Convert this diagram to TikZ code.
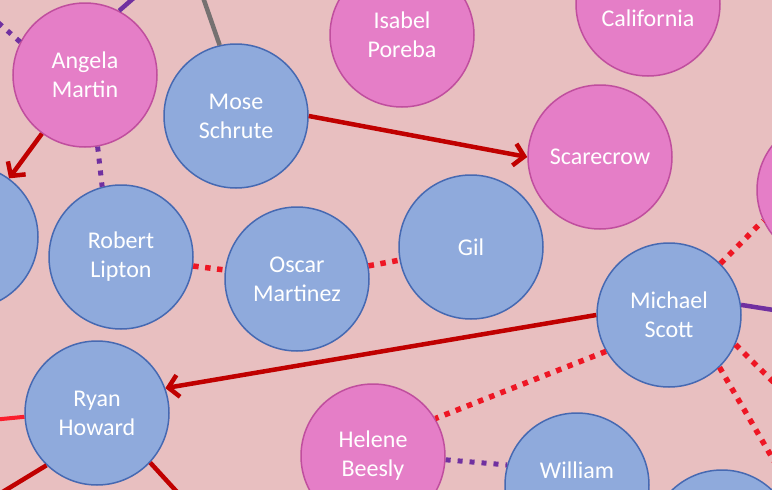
\documentclass[tikz,border=0pt]{standalone}
\usepackage{fontspec}
\setmainfont{Carlito}
\usetikzlibrary{arrows.meta}
\definecolor{bgpink}{RGB}{232,191,192}
\definecolor{nblue}{RGB}{143,170,220}
\definecolor{nblueb}{RGB}{70,105,178}
\definecolor{npink}{RGB}{229,126,199}
\definecolor{npinkb}{RGB}{192,78,158}
\definecolor{darkred}{RGB}{192,0,0}
\definecolor{brightred}{RGB}{238,22,36}
\definecolor{lred}{RGB}{250,30,45}
\definecolor{purp}{RGB}{112,48,160}
\definecolor{grayl}{RGB}{118,113,113}
\begin{document}
\begin{tikzpicture}[x=1pt,y=-1pt,
  txt/.style={text=white, align=center, font=\fontsize{24}{29}\selectfont},
  person/.style={circle, minimum size=144pt, inner sep=0pt, line width=1.5pt, txt},
  bluenode/.style={person, fill=nblue, draw=nblueb},
  pinknode/.style={person, fill=npink, draw=npinkb},
  redarrow/.style={draw=darkred, line width=4.5pt, -{Straight Barb[length=10pt,width=22pt]}},
  redline/.style={draw=darkred, line width=4.5pt},
  reddot/.style={draw=brightred, line width=5.5pt, dash pattern=on 5.5pt off 6.5pt},
  purpdot/.style={draw=purp, line width=5pt, dash pattern=on 5pt off 7pt},
  purpline/.style={draw=purp, line width=4.5pt},
  grayline/.style={draw=grayl, line width=4.5pt}
]
\useasboundingbox (0,0) rectangle (772,490);
\fill[bgpink] (0,0) rectangle (772,490);
\clip (0,0) rectangle (772,490);

% nodes
\node[pinknode] (ang) at (85,75) {Angela\\Martin};
\node[bluenode] (mose) at (236,116) {Mose\\Schrute};
\node[pinknode] (isa) at (402,35) {Isabel\\Poreba};
\node[pinknode, label={[txt,yshift=-14.5pt]center:California}] (cal) at (648,4) {};
\node[pinknode] (scare) at (600,157) {Scarecrow};
\node[pinknode] (rpink) at (829,190) {};
\node[bluenode] (left) at (-34,237) {};
\node[bluenode] (rob) at (121,257) {Robert\\Lipton};
\node[bluenode] (osc) at (297,279) {Oscar\\Martinez};
\node[bluenode] (gil) at (471,247) {Gil};
\node[bluenode] (mich) at (669,315) {Michael\\Scott};
\node[bluenode] (ryan) at (97,413) {Ryan\\Howard};
\node[pinknode] (hel) at (373,456) {Helene\\Beesly};
\node[bluenode, label={[txt,yshift=14.5pt]center:William}] (will) at (577,485) {};
\node[bluenode] (brb) at (722,542) {};

% off-picture ends
\coordinate (gtop) at (190,-40);
\coordinate (ptop) at (160,-25);
\coordinate (pdl) at (-30,-2);
\coordinate (mright) at (850,322);
\coordinate (mdr1) at (840,448);
\coordinate (mdr2) at (820,540);
\coordinate (rleft) at (-60,425);
\coordinate (rdl) at (-60,530);
\coordinate (rdr) at (210,528);

% connectors
\draw[redarrow] (mose.east) -- (scare.west);
\draw[redarrow] (ang) -- (left);
\draw[redarrow] (mich.west) -- (ryan.20);
\draw[purpdot] (ang.280) -- (rob.105);
\draw[reddot] (rob) -- (osc);
\draw[reddot] (osc) -- (gil);
\draw[reddot] (mich.210) -- (hel.31);
\draw[purpdot] (hel.-3) -- (will.164);
\draw[reddot] (mich.45) -- (rpink.205);
\draw[purpline] (mich.8) -- (mright);
\draw[reddot] (mich.-24) -- (mdr1);
\draw[reddot] (mich.-46) -- (mdr2);
\draw[grayline] (mose.103) -- (gtop);
\draw[purpline] (ang.62) -- (ptop);
\draw[purpdot] (ang.153) -- (pdl);
\draw[draw=lred, line width=4pt] (ryan.183) -- (rleft);
\draw[redline] (ryan.226) -- (rdl);
\draw[redline] (ryan.-43) -- (rdr);
\end{tikzpicture}
\end{document}
